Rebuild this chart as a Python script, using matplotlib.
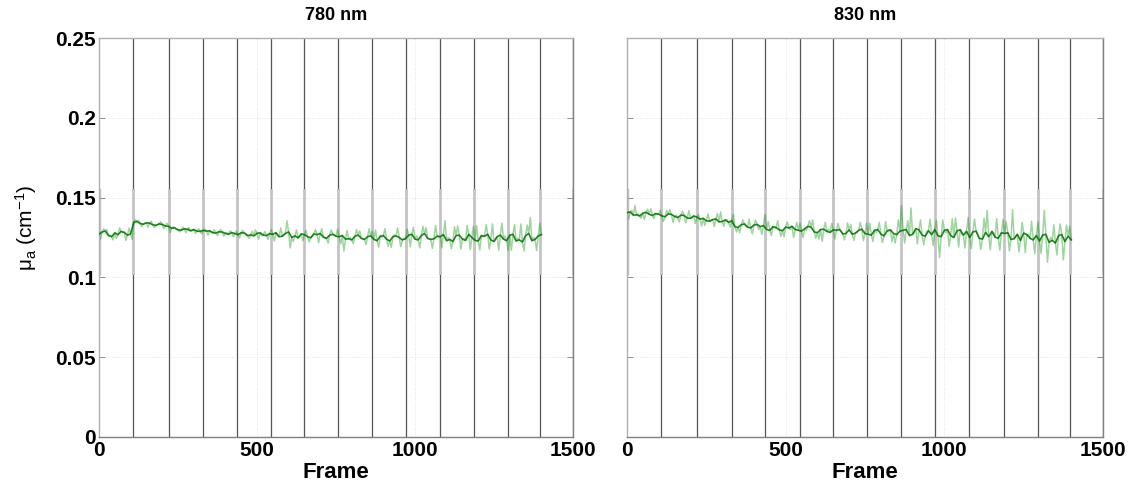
import numpy as np
import matplotlib
matplotlib.use("Agg")
import matplotlib.pyplot as plt

plt.rcParams['font.family'] = ['Liberation Sans', 'DejaVu Sans']
plt.rcParams['mathtext.fontset'] = 'custom'
plt.rcParams['mathtext.rm'] = 'Liberation Sans'
plt.rcParams['mathtext.it'] = 'Liberation Sans'

titles = ["780 nm", "830 nm"]
xlabel = "Frame"
ylabel = r"$\mu_a$ (cm$^{-1}$)"
xticks = [0, 500, 1000, 1500]
yticks = [0, 0.05, 0.1, 0.15, 0.2, 0.25]
ytick_labels = ["0", "0.05", "0.1", "0.15", "0.2", "0.25"]

# segment boundaries (vertical lines), in frames
boundaries = [108, 222, 330, 436, 544, 650, 757, 865, 971, 1079, 1187, 1294, 1396]

frames_dark = np.arange(0, 1401, 10)
frames_light = np.arange(5, 1396, 10)

dark_780 = [
    0.1270,0.1285,0.1290,0.1262,0.1255,0.1279,0.1268,0.1288,0.1282,0.1265,0.1272,
    0.1345,0.1350,0.1338,0.1333,0.1342,0.1340,0.1330,0.1326,0.1335,0.1332,0.1322,0.1320,
    0.1308,0.1310,0.1298,0.1296,0.1304,0.1302,0.1292,0.1300,0.1290,0.1288,0.1295,
    0.1290,0.1292,0.1280,0.1278,0.1286,0.1284,0.1276,0.1270,0.1281,0.1274,
    0.1268,0.1280,0.1278,0.1262,0.1266,0.1260,0.1276,0.1279,0.1265,0.1262,0.1274,
    0.1270,0.1280,0.1255,0.1258,0.1275,0.1285,0.1250,0.1260,0.1248,0.1272,0.1268,
    0.1255,0.1248,0.1272,0.1268,0.1275,0.1252,0.1245,0.1265,0.1270,0.1258,
    0.1255,0.1262,0.1240,0.1242,0.1235,0.1258,0.1265,0.1245,0.1238,0.1255,0.1260,
    0.1238,0.1230,0.1258,0.1262,0.1240,0.1228,0.1255,0.1260,0.1250,0.1235,0.1242,
    0.1265,0.1270,0.1240,0.1235,0.1262,0.1275,0.1245,0.1238,0.1242,0.1258,
    0.1255,0.1268,0.1230,0.1238,0.1225,0.1262,0.1265,0.1240,0.1232,0.1270,0.1250,
    0.1232,0.1228,0.1262,0.1258,0.1270,0.1235,0.1225,0.1255,0.1265,0.1240,0.1230,
    0.1265,0.1270,0.1228,0.1235,0.1222,0.1262,0.1275,0.1230,0.1238,0.1260,0.1268,
]
light_780 = [
    0.1240,0.1305,0.1300,0.1265,0.1235,0.1245,0.1310,0.1280,0.1232,0.1308,0.1238,
    0.1362,0.1358,0.1318,0.1340,0.1315,0.1352,0.1312,0.1330,0.1350,0.1305,0.1340,
    0.1282,0.1318,0.1300,0.1285,0.1315,0.1280,0.1312,0.1295,0.1275,0.1305,0.1272,
    0.1302,0.1265,0.1285,0.1298,0.1262,0.1300,0.1258,0.1280,0.1292,0.1255,0.1290,
    0.1248,0.1295,0.1270,0.1245,0.1290,0.1298,0.1240,0.1262,0.1288,0.1238,
    0.1300,0.1228,0.1262,0.1310,0.1270,0.1355,0.1185,0.1225,0.1298,0.1252,0.1230,
    0.1295,0.1222,0.1260,0.1300,0.1218,0.1305,0.1250,0.1215,0.1298,0.1265,0.1302,
    0.1210,0.1165,0.1295,0.1250,0.1212,0.1300,0.1292,0.1240,0.1205,0.1305,0.1290,
    0.1298,0.1190,0.1250,0.1305,0.1195,0.1188,0.1265,0.1310,0.1192,0.1245,0.1302,
    0.1192,0.1315,0.1260,0.1185,0.1320,0.1312,0.1240,0.1182,0.1325,0.1255,
    0.1185,0.1355,0.1250,0.1180,0.1318,0.1322,0.1178,0.1245,0.1325,0.1175,0.1320,
    0.1325,0.1172,0.1255,0.1330,0.1178,0.1335,0.1240,0.1170,0.1340,0.1260,0.1168,
    0.1170,0.1330,0.1245,0.1335,0.1165,0.1328,0.1375,0.1250,0.1168,0.1340,
]
dark_830 = [
    0.1405,0.1410,0.1390,0.1392,0.1385,0.1402,0.1408,0.1395,0.1388,0.1400,0.1396,
    0.1385,0.1380,0.1398,0.1395,0.1382,0.1375,0.1390,0.1388,0.1372,0.1370,0.1385,0.1378,
    0.1365,0.1370,0.1355,0.1352,0.1362,0.1366,0.1348,0.1350,0.1360,0.1345,0.1355,
    0.1318,0.1312,0.1330,0.1335,0.1315,0.1310,0.1328,0.1332,0.1318,0.1325,
    0.1300,0.1295,0.1318,0.1312,0.1298,0.1292,0.1315,0.1310,0.1320,0.1300,0.1295,
    0.1290,0.1305,0.1320,0.1315,0.1285,0.1280,0.1300,0.1302,0.1288,0.1282,0.1298,
    0.1295,0.1300,0.1272,0.1275,0.1298,0.1270,0.1278,0.1295,0.1302,0.1275,
    0.1270,0.1265,0.1295,0.1300,0.1272,0.1260,0.1292,0.1298,0.1275,0.1268,0.1290,
    0.1295,0.1300,0.1262,0.1270,0.1305,0.1298,0.1265,0.1258,0.1292,0.1268,0.1300,
    0.1260,0.1255,0.1295,0.1300,0.1262,0.1250,0.1292,0.1298,0.1265,0.1288,
    0.1250,0.1285,0.1290,0.1245,0.1240,0.1282,0.1255,0.1288,0.1252,0.1245,0.1280,
    0.1275,0.1280,0.1238,0.1242,0.1270,0.1232,0.1278,0.1268,0.1245,0.1235,0.1262,
    0.1228,0.1265,0.1270,0.1220,0.1232,0.1215,0.1262,0.1268,0.1225,0.1258,0.1235,
]
light_830 = [
    0.1365,0.1420,0.1450,0.1400,0.1370,0.1362,0.1428,0.1430,0.1368,0.1395,0.1422,
    0.1350,0.1420,0.1425,0.1345,0.1390,0.1348,0.1415,0.1342,0.1418,0.1375,0.1338,
    0.1395,0.1322,0.1325,0.1398,0.1355,0.1318,0.1400,0.1410,0.1320,0.1362,0.1315,
    0.1395,0.1285,0.1280,0.1360,0.1320,0.1365,0.1272,0.1358,0.1300,0.1270,0.1395,
    0.1350,0.1262,0.1310,0.1355,0.1258,0.1255,0.1348,0.1300,0.1250,0.1345,
    0.1340,0.1250,0.1295,0.1355,0.1360,0.1245,0.1240,0.1225,0.1345,0.1300,0.1338,
    0.1240,0.1338,0.1290,0.1235,0.1342,0.1332,0.1232,0.1280,0.1345,0.1230,0.1340,
    0.1340,0.1225,0.1280,0.1345,0.1218,0.1350,0.1290,0.1222,0.1215,0.1360,0.1450,
    0.1215,0.1355,0.1435,0.1280,0.1210,0.1360,0.1205,0.1290,0.1365,0.1200,0.1358,
    0.1125,0.1360,0.1280,0.1195,0.1368,0.1372,0.1190,0.1270,0.1185,0.1375,
    0.1180,0.1365,0.1270,0.1175,0.1370,0.1420,0.1172,0.1280,0.1368,0.1170,0.1362,
    0.1350,0.1165,0.1425,0.1260,0.1160,0.1345,0.1155,0.1270,0.1352,0.1150,0.1348,
    0.1150,0.1420,0.1095,0.1250,0.1330,0.1140,0.1335,0.1110,0.1328,0.1320,
]

dark_series = [dark_780, dark_830]
light_series = [light_780, light_830]

band_lo, band_hi = 0.1025, 0.155

fig = plt.figure(figsize=(11.35, 4.82), dpi=100)
W, H = 1135, 482
rects = [(99 / W, 45 / H, 474 / W, 399 / H), (627 / W, 45 / H, 476 / W, 399 / H)]

for i in range(2):
    ax = fig.add_axes(rects[i])
    ax.set_xlim(0, 1500)
    ax.set_ylim(0, 0.25)
    # grid
    for yv in [0.05, 0.1, 0.15, 0.2]:
        ax.axhline(yv, color='#d8d8d8', lw=0.6, ls=(0, (1, 2)), zorder=0)
    for xv in [500, 1000]:
        ax.axvline(xv, color='#d8d8d8', lw=0.6, ls=(0, (1, 2)), zorder=0)
    # segment boundaries
    for b in boundaries + [1500]:
        ax.plot([b, b], [0, band_lo], color='#555555', lw=0.9, zorder=1)
        ax.plot([b, b], [band_hi, 0.25], color='#555555', lw=0.9, zorder=1)
        ax.plot([b, b], [band_lo, band_hi], color='#c4c4c4', lw=2.0, zorder=1)
    ax.plot([0, 0], [band_lo, band_hi], color='#c4c4c4', lw=2.5, zorder=1)

    # data: full trace (dark + light samples interleaved in time)
    fr = np.concatenate([frames_dark, frames_light])
    vals = np.concatenate([dark_series[i], light_series[i]])
    order = np.argsort(fr)
    ax.plot(fr[order], vals[order], color='#009000', alpha=0.38, lw=1.1, zorder=2)
    ax.plot(frames_dark, dark_series[i], color='#006e00', alpha=0.85, lw=1.2, zorder=3)

    for s in ['left', 'top']:
        ax.spines[s].set_color('#b0b0b0')
    for s in ['bottom', 'right']:
        ax.spines[s].set_color('#808080')
    for s in ax.spines.values():
        s.set_linewidth(1.0)

    ax.set_xticks(xticks)
    ax.set_xticklabels([str(x) for x in xticks], fontweight='bold', fontsize=15)
    ax.set_yticks(yticks)
    ax.tick_params(axis='both', direction='in', length=4, width=0.6, color='#808080',
                   right=True, pad=2)
    ax.tick_params(axis='x', length=0, pad=3)
    if i == 0:
        ax.set_yticklabels(ytick_labels, fontweight='bold', fontsize=15)
        ax.set_ylabel(ylabel, fontsize=15)
        ax.yaxis.set_label_coords(-0.127, 0.524)
    else:
        ax.set_yticklabels([])
    ax.set_xlabel(xlabel, fontweight='bold', fontsize=16, labelpad=1)
    ax.set_title(titles[i], fontweight='bold', fontsize=13, pad=13)

fig.savefig("out.png", dpi=100)
